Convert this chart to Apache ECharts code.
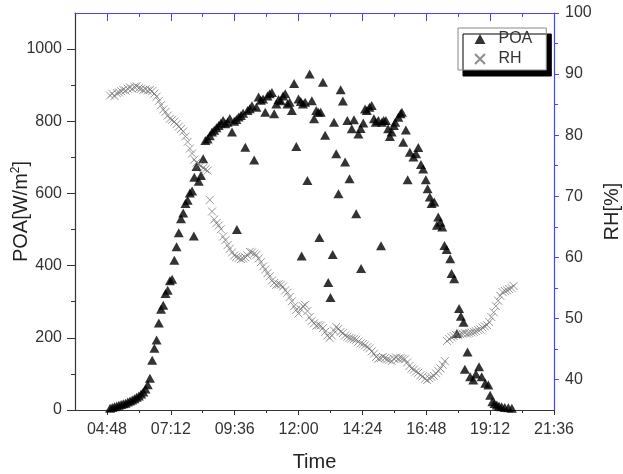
<!DOCTYPE html>
<html><head><meta charset="utf-8">
<script src="https://cdn.jsdelivr.net/npm/echarts@6/dist/echarts.min.js"></script>
<style>html,body{margin:0;padding:0;background:#fff}#c{width:623px;height:474px}</style>
</head><body><div id="c"></div>
<script>
// ---- tick labels ----
const xTickLabels = ['04:48','07:12','09:36','12:00','14:24','16:48','19:12','21:36'];
const xMinorLabels = ['06:00','08:24','10:48','13:12','15:36','18:00','20:24'];
const xRange = ['03:36','21:36'];
const poaTicks = [0,200,400,600,800,1000];
const poaMinorTicks = [100,300,500,700,900];
const poaRange = [0,1100];
const rhTicks = [40,50,60,70,80,90,100];
const rhMinorTicks = [45,55,65,75,85,95];
const rhRange = [35,100];

// ---- POA series (minutes after midnight, W/m2) ----
const poaTime = [
 295,300,305,310,315,320,325,330,335,340,
 345,350,355,360,365,370,375,380,385,390,
 395,400,405,410,415,420,425,430,435,440,
 445,450,455,460,465,470,475,480,484,485,
 490,495,500,505,510,515,520,525,530,535,
 540,545,550,555,560,565,570,575,580,581,
 585,590,595,600,605,610,615,620,625,630,
 635,640,645,650,655,660,665,670,675,680,
 685,690,695,700,705,710,715,720,725,727,
 730,735,740,745,750,755,760,765,767,770,
 775,780,787,792,797,800,805,810,815,820,
 825,830,835,840,845,850,855,860,861,866,
 870,874,880,885,890,894,900,906,908,912,
 917,922,926,930,935,938,945,950,953,956,
 962,966,971,979,985,990,996,1001,1007,1011,
 1016,1020,1026,1032,1035,1040,1044,1049,1054,1062,
 1065,1071,1077,1082,1086,1092,1095,1101,1107,1114,
 1120,1127,1133,1141,1148,1152,1157,1162,1167,1172,
 1178,1185,1193,1201];
const poaValue = [
 5,7,9,11,13,15,17,19,22,25,
 28,31,35,39,44,50,58,70,88,138,
 171,194,241,279,290,323,332,358,362,415,
 452,491,530,546,572,581,601,607,482,645,
 675,634,650,696,747,751,760,770,775,782,
 788,795,802,793,797,808,770,800,805,500,
 812,816,822,728,830,835,843,693,839,867,
 858,862,825,870,876,880,821,848,860,857,
 870,876,848,853,830,905,730,862,855,427,
 848,853,636,931,857,807,830,825,478,825,
 908,761,353,312,431,797,710,599,887,856,
 687,802,641,779,804,544,765,780,392,795,
 834,830,839,844,807,797,802,455,797,802,
 802,779,758,770,788,797,811,821,825,742,
 776,638,714,701,710,727,680,668,638,613,
 590,572,576,512,535,520,507,456,445,419,
 378,364,212,281,260,243,113,161,92,83,
 100,120,92,74,69,41,23,18,14,11,
 9,7,6,5];

// ---- RH series (minutes after midnight, %) ----
const rhTime = [
 295,300,305,310,315,320,325,330,335,340,
 345,350,355,360,365,370,375,380,385,390,
 395,400,405,410,415,420,425,430,435,440,
 445,450,455,460,465,470,475,480,485,490,
 495,500,505,510,515,520,525,530,535,540,
 545,550,555,560,565,570,575,580,585,590,
 595,600,605,610,615,620,625,630,635,640,
 645,650,655,660,665,670,675,680,685,690,
 695,700,705,710,715,720,725,730,735,740,
 745,750,755,760,765,770,775,780,785,790,
 795,800,805,810,815,820,825,830,835,840,
 845,850,855,860,865,870,875,880,885,890,
 895,900,905,910,915,920,925,930,935,940,
 945,950,955,960,965,970,975,980,985,990,
 995,1000,1005,1010,1015,1020,1025,1030,1035,1040,
 1045,1050,1055,1060,1065,1070,1075,1080,1085,1090,
 1095,1100,1105,1110,1115,1120,1125,1130,1135,1140,
 1145,1150,1155,1160,1165,1170,1175,1180,1185,1190,
 1195,1200,1205];
const rhValue = [
 86.5,86.8,86.4,86.9,87.0,87.2,87.4,87.3,87.6,87.8,
 87.6,87.9,88.0,87.7,87.6,87.4,87.5,87.3,87.4,87.2,
 86.8,86.3,85.6,84.9,84.2,83.8,83.2,82.7,82.5,82.2,
 81.8,81.4,81.0,80.6,79.8,78.9,77.8,77.0,76.0,75.5,
 75.2,75.0,74.6,74.4,74.2,69.4,67.5,66.2,65.6,65.2,
 64.6,63.4,62.8,62.0,61.4,60.8,60.3,60.1,59.9,59.7,
 59.8,60.0,60.3,60.9,60.8,60.6,60.4,59.8,59.2,58.5,
 58.0,57.4,56.9,56.2,55.8,55.5,55.6,55.5,55.2,54.6,
 54.2,53.5,52.8,52.0,51.4,50.8,51.5,52.0,52.2,51.2,
 50.2,49.6,49.2,48.8,48.9,48.8,48.4,47.8,47.2,46.8,
 47.2,48.0,48.6,48.3,47.8,47.6,47.2,47.0,46.8,46.7,
 46.6,46.5,46.2,45.9,45.8,45.6,45.3,45.1,44.6,44.2,
 43.7,43.4,43.5,43.7,43.5,43.3,43.2,43.0,43.4,43.6,
 43.4,43.5,43.4,43.3,42.8,42.2,41.8,41.6,41.3,41.1,
 40.7,40.5,40.1,39.9,40.2,40.4,40.6,41.0,41.4,41.8,
 42.4,43.0,46.3,46.6,46.9,47.1,47.3,47.2,47.4,47.5,
 47.6,47.5,47.6,47.7,47.8,47.9,48.1,48.2,48.5,48.7,
 48.9,49.4,50.2,51.0,52.0,52.9,53.7,54.3,54.5,54.6,
 54.8,55.0,55.3];

function toMin(s){ const p = s.split(':').map(Number); return p[0]*60+p[1]; }
function fmt(v){ const h=Math.floor(v/60), m=Math.round(v%60); return (h<10?'0':'')+h+':'+(m<10?'0':'')+m; }
function plain(v){ return String(v); }

const xMajor = xTickLabels.map(toMin);
const xMinor = xMinorLabels.map(toMin);
const FONT = 'Liberation Sans, Arial, sans-serif';
const DARK = '#333';
const BLUE = '#4444ff';

const baseX = { type:'value', min: toMin(xRange[0]), max: toMin(xRange[1]), splitLine:{show:false} };
const chart = echarts.init(document.getElementById('c'), null, {renderer:'canvas'});
chart.setOption({
  animation:false,
  backgroundColor:'#fff',
  grid:{ left:75, top:13, width:479, height:397, containLabel:false, outerBoundsMode:'none' },
  legend:{
    left:458, top:28, orient:'vertical', padding:[3,14,3,16], itemGap:4,
    itemWidth:11, itemHeight:10, backgroundColor:'#fff', borderColor:'#888', borderWidth:1,
    shadowColor:'#000', shadowBlur:0, shadowOffsetX:5, shadowOffsetY:6,
    textStyle:{ fontSize:16, color:DARK, fontFamily:FONT, padding:[0,0,0,8] },
    data:[ {name:'POA', icon:'triangle'}, {name:'RH'} ]
  },
  xAxis:[
    Object.assign({}, baseX, { position:'bottom',
      axisLine:{ lineStyle:{color:DARK, width:1.2} },
      axisTick:{ show:true, customValues:xMajor, length:5, lineStyle:{color:DARK} },
      axisLabel:{ customValues:xMajor, formatter:fmt, margin:12, fontSize:16, color:DARK, fontFamily:FONT },
      name:'Time', nameLocation:'middle', nameGap:42, nameMoveOverlap:false,
      nameTextStyle:{ fontSize:20, color:'#222', fontFamily:FONT } }),
    Object.assign({}, baseX, { position:'bottom',
      axisLine:{ show:false },
      axisTick:{ show:true, customValues:xMinor, length:3, lineStyle:{color:DARK} },
      axisLabel:{ show:false } }),
    Object.assign({}, baseX, { position:'top',
      axisLine:{ lineStyle:{color:BLUE, width:1.2} },
      axisTick:{ show:true, customValues:xMajor, inside:true, length:8, lineStyle:{color:BLUE} },
      axisLabel:{ show:false } }),
    Object.assign({}, baseX, { position:'top',
      axisLine:{ show:false },
      axisTick:{ show:true, customValues:xMinor, inside:true, length:4, lineStyle:{color:BLUE} },
      axisLabel:{ show:false } })
  ],
  yAxis:[
    { type:'value', position:'left', min:poaRange[0], max:poaRange[1], splitLine:{show:false},
      axisLine:{ show:true, lineStyle:{color:DARK, width:1.2} },
      axisTick:{ show:true, customValues:poaTicks, length:8, lineStyle:{color:DARK} },
      axisLabel:{ customValues:poaTicks, formatter:plain, margin:13, fontSize:16, color:DARK, fontFamily:FONT },
      name:'{a|POA[W/m}{s|2}{a|]}', nameLocation:'middle', nameGap:43, nameRotate:90, nameMoveOverlap:false,
      nameTextStyle:{ fontFamily:FONT, color:'#222', rich:{
        a:{ fontSize:20, fontFamily:FONT, color:'#222', lineHeight:22 },
        s:{ fontSize:12, fontFamily:FONT, color:'#222', lineHeight:22, verticalAlign:'top' } } } },
    { type:'value', position:'right', min:rhRange[0], max:rhRange[1], splitLine:{show:false},
      axisLine:{ show:true, lineStyle:{color:BLUE, width:1.2} },
      axisTick:{ show:true, customValues:rhTicks, length:5, lineStyle:{color:BLUE} },
      axisLabel:{ customValues:rhTicks, formatter:plain, margin:11, fontSize:16, color:DARK, fontFamily:FONT },
      name:'RH[%]', nameLocation:'middle', nameGap:48, nameRotate:90, nameMoveOverlap:false,
      nameTextStyle:{ fontSize:20, color:'#222', fontFamily:FONT } },
    { type:'value', position:'left', min:poaRange[0], max:poaRange[1], splitLine:{show:false},
      axisLine:{ show:false },
      axisTick:{ show:true, customValues:poaMinorTicks, length:4, lineStyle:{color:DARK} },
      axisLabel:{ show:false } },
    { type:'value', position:'right', min:rhRange[0], max:rhRange[1], splitLine:{show:false},
      axisLine:{ show:false },
      axisTick:{ show:true, customValues:rhMinorTicks, length:4, lineStyle:{color:BLUE} },
      axisLabel:{ show:false } }
  ],
  series:[
    { name:'POA', type:'scatter', xAxisIndex:0, yAxisIndex:0, symbol:'triangle', symbolSize:[10,9],
      itemStyle:{ color:'#000' }, silent:true,
      data: poaTime.map((t,i)=>[t, poaValue[i]]) },
    { name:'RH', type:'scatter', xAxisIndex:0, yAxisIndex:1, symbol:'path://M0,0L10,10M10,0L0,10', symbolSize:8,
      itemStyle:{ color:'rgba(0,0,0,0)', borderColor:'#707070', borderWidth:0.9 }, silent:true,
      data: rhTime.map((t,i)=>[t, rhValue[i]]) }
  ]
});
</script></body></html>
